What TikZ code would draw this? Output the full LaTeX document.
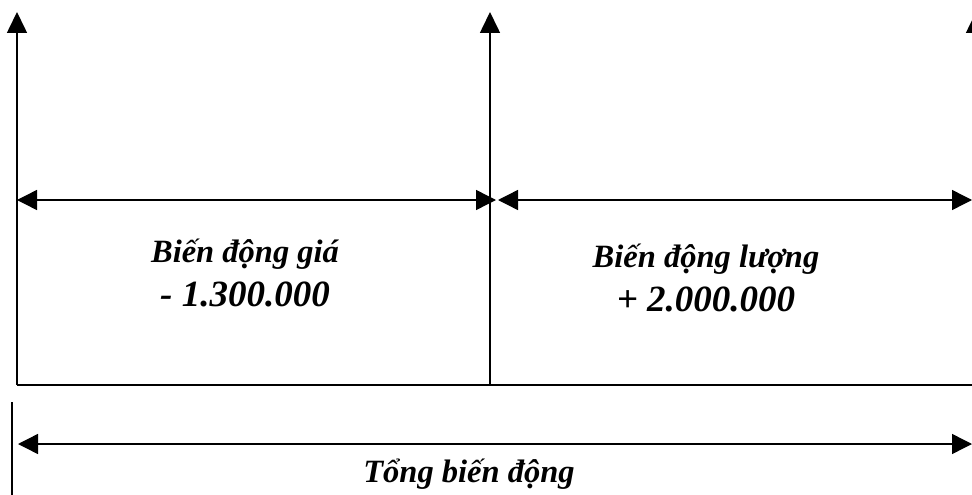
\documentclass[tikz,border=0pt]{standalone}
\usepackage{fontspec}
\setmainfont{Liberation Serif}
\usetikzlibrary{arrows.meta}

\begin{document}
\begin{tikzpicture}[x=1pt, y=-1pt,
  edge/.style={line width=1.6pt},
  up/.style={-{Triangle[length=21pt,width=20pt]}, line width=1.6pt},
  span/.style={{Triangle[length=20pt,width=20pt]}-{Triangle[length=20pt,width=20pt]}, line width=1.4pt},
  lbl/.style={font=\bfseries\itshape\fontsize{32.5}{34}\selectfont, anchor=base, inner sep=0pt},
  val/.style={font=\bfseries\itshape\fontsize{37}{40}\selectfont, anchor=base, inner sep=0pt}]

\useasboundingbox (0,0) rectangle (972,495);
\clip (0,0) rectangle (972,495);

% corners of the two blocks
\coordinate (botleft) at (17,385);
\coordinate (topleft) at (17,12);
\coordinate (botmid) at (490,385);
\coordinate (topmid) at (490,12);
\coordinate (botright) at (976,385);
\coordinate (topright) at (976,12);

\draw[up] (botleft) -- (topleft);
\draw[up] (botmid) -- (topmid);
\draw[up] (botright) -- (topright);
\draw[edge] (botleft) -- (botright);

% spans of the two parts
\coordinate (pricea) at (17,200);
\coordinate (priceb) at (496,200);
\coordinate (qtya) at (498,200);
\coordinate (qtyb) at (972,200);
\draw[span] (pricea) -- (priceb);
\draw[span] (qtya) -- (qtyb);

\node[lbl] (pricelbl) at (245,262) {Biến động giá};
\node[val] (priceval) at (245,306) {- 1.300.000};
\node[lbl] (qtylbl) at (706,267) {Biến động lượng};
\node[val] (qtyval) at (706,311) {+ 2.000.000};

% total span
\coordinate (ticktop) at (12,402);
\coordinate (tickbot) at (12,500);
\draw[edge] (ticktop) -- (tickbot);
\coordinate (totala) at (18,444);
\coordinate (totalb) at (972,444);
\draw[span] (totala) -- (totalb);

\node[lbl] (totallbl) at (469,482) {Tổng biến động};
\end{tikzpicture}
\end{document}
